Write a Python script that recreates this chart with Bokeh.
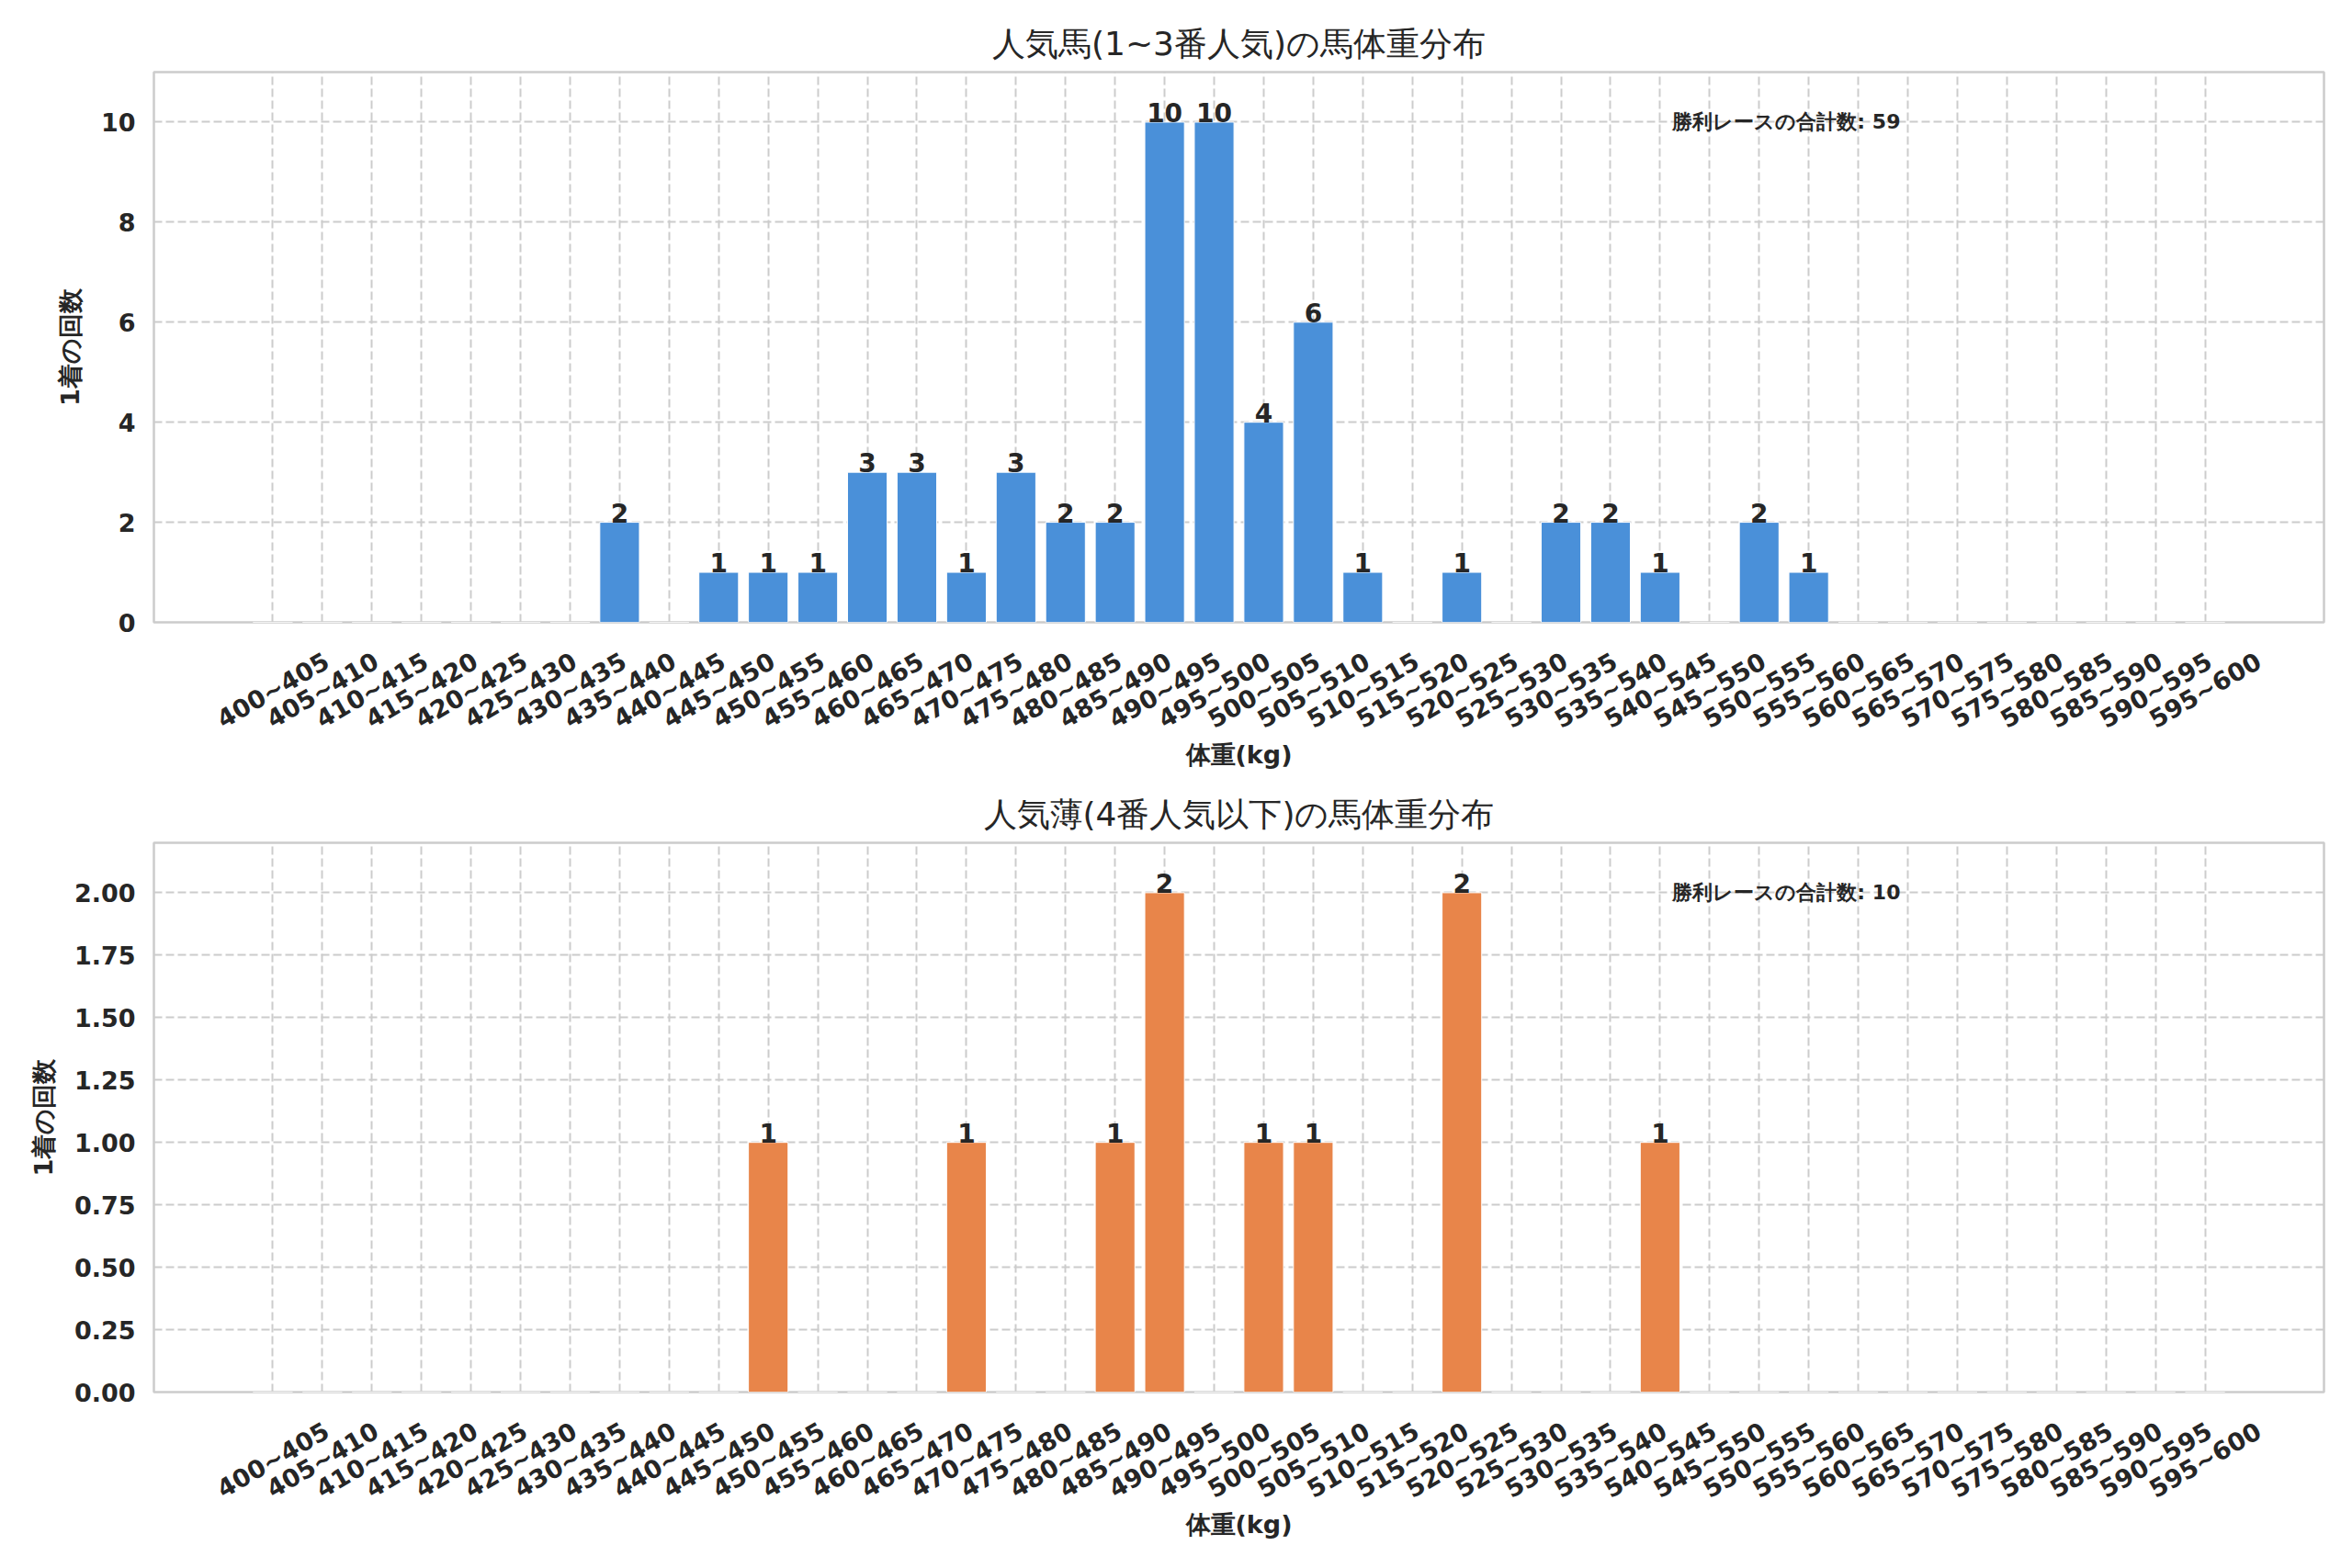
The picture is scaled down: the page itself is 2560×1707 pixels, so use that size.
import math
from bokeh.plotting import figure
from bokeh.models import ColumnDataSource, LabelSet, Label, FixedTicker, NumeralTickFormatter, Range1d
from bokeh.layouts import column
from bokeh.embed import file_html
from bokeh.resources import INLINE
from bokeh.core.properties import value

# ---------------- data ----------------
bins = ["400~405", "405~410", "410~415", "415~420", "420~425", "425~430", "430~435", "435~440",
        "440~445", "445~450", "450~455", "455~460", "460~465", "465~470", "470~475", "475~480",
        "480~485", "485~490", "490~495", "495~500", "500~505", "505~510", "510~515", "515~520",
        "520~525", "525~530", "530~535", "535~540", "540~545", "545~550", "550~555", "555~560",
        "560~565", "565~570", "570~575", "575~580", "580~585", "585~590", "590~595", "595~600"]

popular_counts = [0, 0, 0, 0, 0, 0, 0, 2,
                  0, 1, 1, 1, 3, 3, 1, 3,
                  2, 2, 10, 10, 4, 6, 1, 0,
                  1, 0, 2, 2, 1, 0, 2, 1,
                  0, 0, 0, 0, 0, 0, 0, 0]

longshot_counts = [0, 0, 0, 0, 0, 0, 0, 0,
                   0, 0, 1, 0, 0, 0, 1, 0,
                   0, 1, 2, 0, 1, 1, 0, 0,
                   2, 0, 0, 0, 1, 0, 0, 0,
                   0, 0, 0, 0, 0, 0, 0, 0]

top_yticks = [0, 2, 4, 6, 8, 10]
bottom_yticks = [0.0, 0.25, 0.5, 0.75, 1.0, 1.25, 1.5, 1.75, 2.0]

titles = ["人気馬(1~3番人気)の馬体重分布", "人気薄(4番人気以下)の馬体重分布"]
x_label = "体重(kg)"
y_label = "1着の回数"
total_label = "勝利レースの合計数"

FONT = "DejaVu Sans"
TXT = "#262626"
GRID = "#cccccc"
LABEL_SHIFT = 1.09  # half a rotated tick label, in bin units (centres labels on ticks)


def make_fig(counts, color, title, yticks, fmt, border_top, frame_h, border_bottom):
    n = len(bins)
    xs = list(range(n))
    ymax = max(counts) * 1.1
    x0, x1 = -2.4, n - 1 + 2.4
    p = figure(frame_width=2362, frame_height=frame_h,
               x_range=Range1d(x0, x1), y_range=Range1d(0, ymax),
               output_backend="svg", toolbar_location=None,
               min_border_left=167, min_border_right=31,
               min_border_top=border_top, min_border_bottom=border_bottom,
               background_fill_color="white", border_fill_color="white")
    p.extra_x_ranges = {"lab": Range1d(x0 - LABEL_SHIFT, x1 - LABEL_SHIFT)}

    p.title.text = title
    p.title.align = "center"
    p.title.text_font = FONT
    p.title.text_font_size = "36px"
    p.title.text_font_style = "normal"
    p.title.text_color = TXT
    p.title.standoff = 22

    src = ColumnDataSource(dict(x=xs, top=counts))
    p.vbar(x="x", top="top", width=0.8, bottom=0, source=src,
           fill_color=color, line_color="white", line_width=1)

    # value labels on bars
    lx = [i for i, c in zip(xs, counts) if c > 0]
    ly = [c for c in counts if c > 0]
    lt = [str(c) for c in counts if c > 0]
    lsrc = ColumnDataSource(dict(x=lx, y=ly, t=lt))
    p.add_layout(LabelSet(x="x", y="y", text="t", source=lsrc, text_align="center",
                          text_baseline="alphabetic", text_font=value(FONT),
                          text_font_size=value("28px"), text_font_style=value("bold"),
                          text_color=value(TXT)))

    # total annotation
    p.add_layout(Label(x=n * 0.7 + 0.25, y=max(counts),
                       text=f"{total_label}: {sum(counts)}",
                       text_align="left", text_baseline="middle", text_font=FONT,
                       text_font_size="22px", text_font_style="bold", text_color=TXT))

    xax = p.xaxis[0]
    xax.x_range_name = "lab"
    xax.ticker = FixedTicker(ticks=xs)
    xax.major_label_overrides = {i: b for i, b in enumerate(bins)}
    xax.major_label_orientation = math.pi / 6
    xax.major_label_standoff = 34
    xax.major_label_text_font_size = "27px"
    xax.axis_label = x_label
    xax.axis_label_standoff = -9

    p.yaxis.ticker = FixedTicker(ticks=yticks)
    if fmt:
        p.yaxis.formatter = NumeralTickFormatter(format=fmt)
    p.yaxis.axis_label = y_label
    p.yaxis.major_label_standoff = 14
    p.yaxis.axis_label_standoff = 15
    p.yaxis.major_label_text_font_size = "27px"
    for ax in (p.xaxis, p.yaxis):
        ax.axis_line_color = None
        ax.major_tick_line_color = None
        ax.minor_tick_line_color = None
        ax.axis_label_text_font = FONT
        ax.axis_label_text_font_size = "27px"
        ax.axis_label_text_font_style = "bold"
        ax.axis_label_text_color = TXT
        ax.major_label_text_font = FONT
        ax.major_label_text_font_style = "bold"
        ax.major_label_text_color = TXT

    for g in (p.xgrid, p.ygrid):
        g.grid_line_color = GRID
        g.grid_line_width = 2
        g.grid_line_dash = "9 4"
    p.xgrid.ticker = FixedTicker(ticks=xs)
    p.ygrid.ticker = FixedTicker(ticks=yticks)
    p.outline_line_color = GRID
    p.outline_line_width = 2.5
    return p


p1 = make_fig(popular_counts, "#4A90D9", titles[0], top_yticks, None, 78, 599, 175)
p2 = make_fig(longshot_counts, "#E8854A", titles[1], bottom_yticks, "0.00", 64, 598, 185)

layout = column(p1, p2, spacing=0)
open("out.html", "w").write(file_html(layout, INLINE))
